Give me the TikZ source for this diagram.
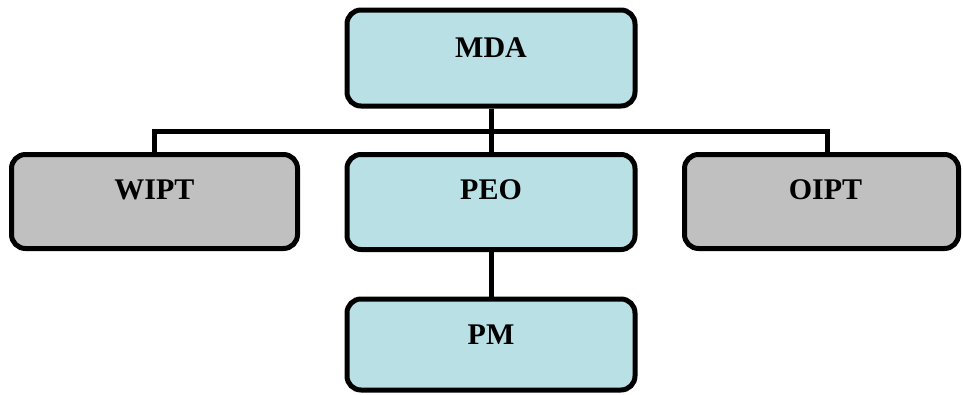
\documentclass[tikz,border=0pt]{standalone}
\usepackage{fontspec}
\setmainfont{Liberation Serif}
\definecolor{boxblue}{RGB}{185,224,228}
\definecolor{boxgray}{RGB}{192,192,192}
\begin{document}
\begin{tikzpicture}[x=1pt,y=-1pt,
  box/.style={draw=black, line width=5pt, rounded corners=14pt, rectangle, inner sep=0pt},
  bluebox/.style={box, fill=boxblue},
  graybox/.style={box, fill=boxgray},
  lbl/.style={font=\fontsize{30}{36}\selectfont\bfseries, inner sep=0pt, text=black},
  conn/.style={draw=black, line width=5pt}]
\useasboundingbox (0,0) rectangle (963,394);
\node[bluebox, minimum width=288pt, minimum height=96pt,
  label={[lbl,yshift=10pt]center:MDA}] (MDA) at (491,58) {};
\node[bluebox, minimum width=288pt, minimum height=95pt,
  label={[lbl,yshift=12pt]center:PEO}] (PEO) at (491,202) {};
\node[graybox, minimum width=286pt, minimum height=94pt,
  label={[lbl,yshift=12pt]center:WIPT}] (WIPT) at (154.5,201.5) {};
\node[graybox, minimum width=274pt, minimum height=94pt,
  label={[lbl,yshift=12pt,xshift=4pt]center:OIPT}] (OIPT) at (821.5,201.5) {};
\node[bluebox, minimum width=288pt, minimum height=91pt,
  label={[lbl,yshift=10pt]center:PM}] (PM) at (491,344.5) {};
\coordinate (bus) at (491,131);
\draw[conn] (WIPT.north) |- (bus) -| ([xshift=5.5pt]OIPT.north);
\draw[conn] (MDA.south) -- (PEO.north);
\draw[conn] (PEO.south) -- (PM.north);
\end{tikzpicture}
\end{document}
